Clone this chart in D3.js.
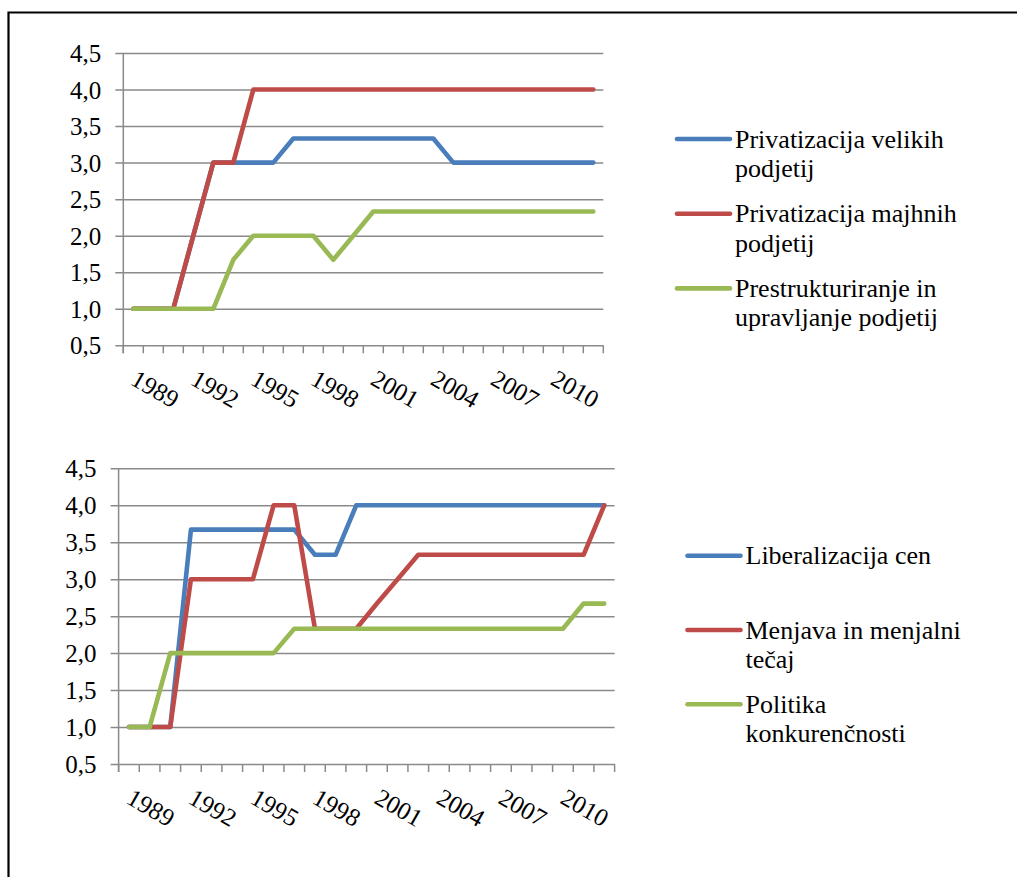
<!DOCTYPE html>
<html>
<head>
<meta charset="utf-8">
<script src="https://cdn.jsdelivr.net/npm/d3@7"></script>
<style>
  html, body { margin: 0; padding: 0; background: #fff; }
  svg { display: block; }
  svg text { font-family: "Liberation Serif", "Times New Roman", Tinos, "Nimbus Roman", "DejaVu Serif", FreeSerif, serif; }
</style>
</head>
<body>
<svg id="chart" width="1017" height="877"></svg>
<script>
// Categories (years) and axis labels
const years = [1989, 1990, 1991, 1992, 1993, 1994, 1995, 1996, 1997, 1998, 1999, 2000,
               2001, 2002, 2003, 2004, 2005, 2006, 2007, 2008, 2009, 2010, 2011, 2012];
const yearLabels = [1989, 1992, 1995, 1998, 2001, 2004, 2007, 2010];
const yTicks = [0.5, 1, 1.5, 2, 2.5, 3, 3.5, 4, 4.5];

// Upper panel series
const privatizacijaVelikih = [1, 1, 1, 2, 3, 3, 3, 3, 3.33, 3.33, 3.33, 3.33, 3.33, 3.33, 3.33, 3.33,
                              3, 3, 3, 3, 3, 3, 3, 3];
const privatizacijaMajhnih = [1, 1, 1, 2, 3, 3, 4, 4, 4, 4, 4, 4, 4, 4, 4, 4, 4, 4, 4, 4, 4, 4, 4, 4];
const prestrukturiranje    = [1, 1, 1, 1, 1, 1.67, 2, 2, 2, 2, 1.67, 2, 2.33, 2.33, 2.33, 2.33,
                              2.33, 2.33, 2.33, 2.33, 2.33, 2.33, 2.33, 2.33];
const topLabels = [["Privatizacija velikih", "podjetij"],
                   ["Privatizacija majhnih", "podjetij"],
                   ["Prestrukturiranje in", "upravljanje podjetij"]];

// Lower panel series
const liberalizacijaCen = [1, 1, 1, 3.67, 3.67, 3.67, 3.67, 3.67, 3.67, 3.33, 3.33, 4, 4, 4, 4, 4,
                           4, 4, 4, 4, 4, 4, 4, 4];
const menjavaTecaj      = [1, 1, 1, 3, 3, 3, 3, 4, 4, 2.33, 2.33, 2.33, 2.67, 3, 3.33, 3.33,
                           3.33, 3.33, 3.33, 3.33, 3.33, 3.33, 3.33, 4];
const politikaKonk      = [1, 1, 2, 2, 2, 2, 2, 2, 2.33, 2.33, 2.33, 2.33, 2.33, 2.33, 2.33, 2.33,
                           2.33, 2.33, 2.33, 2.33, 2.33, 2.33, 2.67, 2.67];
const bottomLabels = [["Liberalizacija cen"],
                      ["Menjava in menjalni", "tečaj"],
                      ["Politika", "konkurenčnosti"]];

const seriesColors = ["#4A7EBB", "#BE4B48", "#98B954"];

const svg = d3.select("#chart");
const fmt = d3.formatLocale({ decimal: ",", thousands: ".", grouping: [3], currency: ["", "€"] }).format(".1f");
const gridColor = "#8a8a8a";

function drawPanel(p, series, labels) {
  const g = svg.append("g");
  const x = d3.scaleBand().domain(years).range([p.left, p.right]).padding(0);
  const y = d3.scaleLinear().domain([0.5, 4.5]).range([p.bottom, p.top]);
  const cx = d => x(d) + x.bandwidth() / 2;

  // Horizontal gridlines with value labels
  const yAxis = d3.axisLeft(y)
    .tickValues(yTicks)
    .tickFormat(fmt)
    .tickSizeInner(-(p.right - p.left + 8))
    .tickSizeOuter(0)
    .tickPadding(14);
  const ya = g.append("g").attr("transform", `translate(${p.left - 8},0)`).call(yAxis);
  ya.attr("font-family", null).attr("font-size", null);
  ya.select(".domain").remove();
  ya.selectAll(".tick line").attr("stroke", gridColor).attr("stroke-width", 1.5);
  ya.selectAll(".tick text")
    .attr("fill", "#000")
    .attr("font-size", 25)
    .attr("dy", "0.34em");

  // Vertical axis line
  g.append("line")
    .attr("x1", p.left).attr("x2", p.left)
    .attr("y1", p.top).attr("y2", p.bottom + 8)
    .attr("stroke", gridColor).attr("stroke-width", 1.5);

  // Category tick marks on band boundaries
  const bounds = years.map(d => x(d)).concat([p.right]);
  g.selectAll("line.xtick").data(bounds).join("line")
    .attr("class", "xtick")
    .attr("x1", d => d).attr("x2", d => d)
    .attr("y1", p.bottom).attr("y2", p.bottom + 8)
    .attr("stroke", gridColor).attr("stroke-width", 1.5);

  // Rotated year labels
  g.selectAll("text.xlab").data(yearLabels).join("text")
    .attr("class", "xlab")
    .attr("transform", d => `translate(${cx(d) - 4},${p.bottom + 38.5}) rotate(30)`)
    .attr("font-size", 25)
    .attr("fill", "#000")
    .text(d => d);

  // Series lines
  const line = d3.line().x((d, i) => cx(years[i])).y(d => y(d));
  series.forEach((s, k) => {
    g.append("path")
      .datum(s)
      .attr("d", line)
      .attr("fill", "none")
      .attr("stroke", seriesColors[k])
      .attr("stroke-width", 4.6)
      .attr("stroke-linejoin", "round")
      .attr("stroke-linecap", "round");
  });

  // Legend
  labels.forEach((lines, k) => {
    const ly = p.legendY + k * p.legendStep;
    g.append("line")
      .attr("x1", p.legendX).attr("x2", p.legendX + 53)
      .attr("y1", ly).attr("y2", ly)
      .attr("stroke", seriesColors[k]).attr("stroke-width", 4.6)
      .attr("stroke-linecap", "round");
    const t = g.append("text")
      .attr("x", p.legendX + 58).attr("y", ly + 8.5)
      .attr("font-size", 26).attr("fill", "#000");
    lines.forEach((ln, j) => {
      t.append("tspan").attr("x", p.legendX + 58).attr("dy", j === 0 ? 0 : 29.5).text(ln);
    });
  });
}

drawPanel({ left: 123.3, right: 603.3, top: 53, bottom: 345.3, legendX: 677, legendY: 139, legendStep: 74.7 },
          [privatizacijaVelikih, privatizacijaMajhnih, prestrukturiranje], topLabels);
drawPanel({ left: 118.6, right: 614.6, top: 468.3, bottom: 764, legendX: 687.5, legendY: 555.7, legendStep: 74.3 },
          [liberalizacijaCen, menjavaTecaj, politikaKonk], bottomLabels);

// Outer frame
svg.append("path")
  .attr("d", "M8.5,877 V12.5 H1017")
  .attr("fill", "none")
  .attr("stroke", "#000")
  .attr("stroke-width", 2.2);
</script>
</body>
</html>
